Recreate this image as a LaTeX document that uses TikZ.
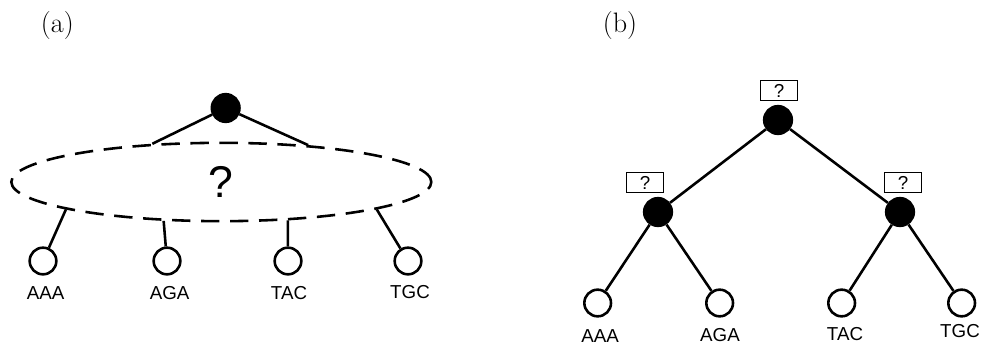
\documentclass[tikz,border=0pt]{standalone}
\usepackage{fontspec}
\newfontfamily\labelfont{Liberation Sans}
\usetikzlibrary{shapes,positioning}

\begin{document}
\begin{tikzpicture}[
line width=2.2pt,
hiddennode/.style={circle, draw=black, fill=black, minimum size=8.3mm, inner sep=0pt},
leafnode/.style={circle, draw=black, fill=white, minimum size=8mm, inner sep=0pt},
cloudnode/.style={ellipse, draw=black, dash pattern=on 5.5mm off 3.2mm, minimum width=12.6cm, minimum height=2.35cm, inner sep=0pt, font=\labelfont\fontsize{38}{42}\selectfont},
qbox/.style={rectangle, draw=black, line width=1.1pt, minimum width=1.12cm, minimum height=0.6cm, inner sep=0pt, font=\labelfont\fontsize{16}{18}\selectfont},
leaflabel/.style={anchor=base, font=\labelfont\fontsize{16}{18}\selectfont},
panellabel/.style={font=\fontsize{24}{28}\selectfont},
]
\useasboundingbox (0,0) rectangle (29.46,10.32);

% (a)
\node[panellabel]         (la)     at (1.72,9.57)    {(a)};
\node[cloudnode]          (cloud)  at (6.64,4.86)    {?};
\node[hiddennode]         (ra)     at (6.77,7.08)    {};
\node[leafnode]           (a1)     at (1.29,2.49)    {};
\node[leafnode]           (a2)     at (5.01,2.49)    {};
\node[leafnode]           (a3)     at (8.64,2.49)    {};
\node[leafnode]           (a4)     at (12.24,2.49)   {};
\node[leaflabel]          (ta1)    at (1.37,1.35)    {AAA};
\node[leaflabel]          (ta2)    at (5.09,1.35)    {AGA};
\node[leaflabel]          (ta3)    at (8.67,1.35)    {TAC};
\node[leaflabel]          (ta4)    at (12.3,1.38)    {TGC};

\draw (ra) -- (cloud.151);
\draw (ra) -- (cloud.23);
\draw (a1) -- (cloud.190.6);
\draw (a2) -- (cloud.214.5);
\draw (a3) -- (cloud.330.3);
\draw (a4) -- (cloud.350.6);

% (b)
\node[panellabel]         (lb)     at (18.6,9.57)    {(b)};
\node[hiddennode]         (rb)     at (23.34,6.72)   {};
\node[hiddennode]         (x)      at (19.74,3.96)   {};
\node[hiddennode]         (y)      at (27.0,3.96)    {};
\node[qbox]               (qr)     at (23.37,7.6)    {?};
\node[qbox]               (qx)     at (19.35,4.84)   {?};
\node[qbox]               (qy)     at (27.09,4.84)   {?};
\node[leafnode]           (b1)     at (17.93,1.23)   {};
\node[leafnode]           (b2)     at (21.59,1.23)   {};
\node[leafnode]           (b3)     at (25.25,1.23)   {};
\node[leafnode]           (b4)     at (28.85,1.23)   {};
\node[leaflabel]          (tb1)    at (18.0,0.04)    {AAA};
\node[leaflabel]          (tb2)    at (21.6,0.08)    {AGA};
\node[leaflabel]          (tb3)    at (25.35,0.12)   {TAC};
\node[leaflabel]          (tb4)    at (28.8,0.2)     {TGC};

\draw (rb) -- (x);
\draw (rb) -- (y);
\draw (x) -- (b1);
\draw (x) -- (b2);
\draw (y) -- (b3);
\draw (y) -- (b4);

\end{tikzpicture}
\end{document}
